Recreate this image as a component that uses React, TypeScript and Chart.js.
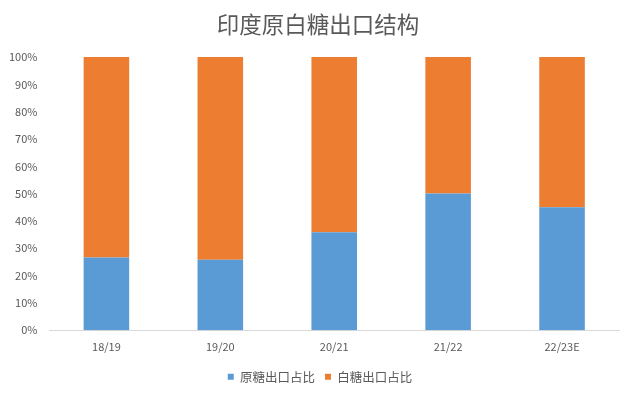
import React, { useEffect, useRef } from "react";
import { Chart, registerables } from "chart.js";

Chart.register(...registerables);

const categories = ["18/19", "19/20", "20/21", "21/22", "22/23E"];
const rawShare = [26.6, 25.8, 35.9, 50.1, 45.0];
const whiteShare = rawShare.map((v) => +(100 - v).toFixed(1));
const seriesNames = ["原糖出口占比", "白糖出口占比"];
const titleText = "印度原白糖出口结构";

export default function App() {
  const ref = useRef<HTMLCanvasElement>(null);
  useEffect(() => {
    document.body.style.margin = "0";
    const font = "'Microsoft YaHei', 'Noto Sans CJK SC', sans-serif";
    const titlePlugin = {
      id: "centeredTitle",
      afterDraw(chart: any) {
        const ctx = chart.ctx;
        ctx.save();
        ctx.font = `normal 22.5px ${font}`;
        ctx.fillStyle = "#595959";
        ctx.textAlign = "center";
        ctx.textBaseline = "middle";
        ctx.fillText(titleText, chart.width / 2 + 1, 24.5);
        ctx.restore();
      },
    };
    const legendShift = {
      id: "legendShift",
      afterLayout(chart: any) {
        const l = chart.legend;
        if (!l) return;
        l.left += 12;
        l.right += 12;
        l.top -= 3;
        l.bottom -= 3;
      },
    };
    const chart = new Chart(ref.current!, {
      type: "bar",
      data: {
        labels: categories,
        datasets: [
          { label: seriesNames[0], data: rawShare, backgroundColor: "#5B9BD5", categoryPercentage: 1, barPercentage: 0.4 },
          { label: seriesNames[1], data: whiteShare, backgroundColor: "#ED7D31", categoryPercentage: 1, barPercentage: 0.4 },
        ],
      },
      plugins: [titlePlugin, legendShift],
      options: {
        animation: false,
        responsive: false,
        layout: { padding: { left: -3, right: 15, top: 57, bottom: 0 } },
        plugins: {
          title: { display: false },
          legend: {
            position: "bottom",
            labels: {
              color: "#595959",
              font: { family: font, size: 12.5 },
              boxWidth: 6,
              boxHeight: 6,
              padding: 10,
            },
          },
          tooltip: { enabled: false },
        },
        scales: {
          x: {
            stacked: true,
            grid: { display: false, drawTicks: false },
            border: { color: "#D9D9D9" },
            ticks: { color: "#595959", font: { family: font, size: 11 }, padding: 10 },
          },
          y: {
            stacked: true,
            min: 0,
            max: 100,
            grid: { display: false, drawTicks: false },
            border: { display: false },
            ticks: {
              stepSize: 10,
              color: "#595959",
              font: { family: font, size: 11 },
              callback: (v: any) => v + "%",
              padding: 12,
            },
          },
        },
      },
    });
    return () => chart.destroy();
  }, []);
  return <canvas ref={ref} width={634} height={396} style={{ display: "block" }} />;
}
